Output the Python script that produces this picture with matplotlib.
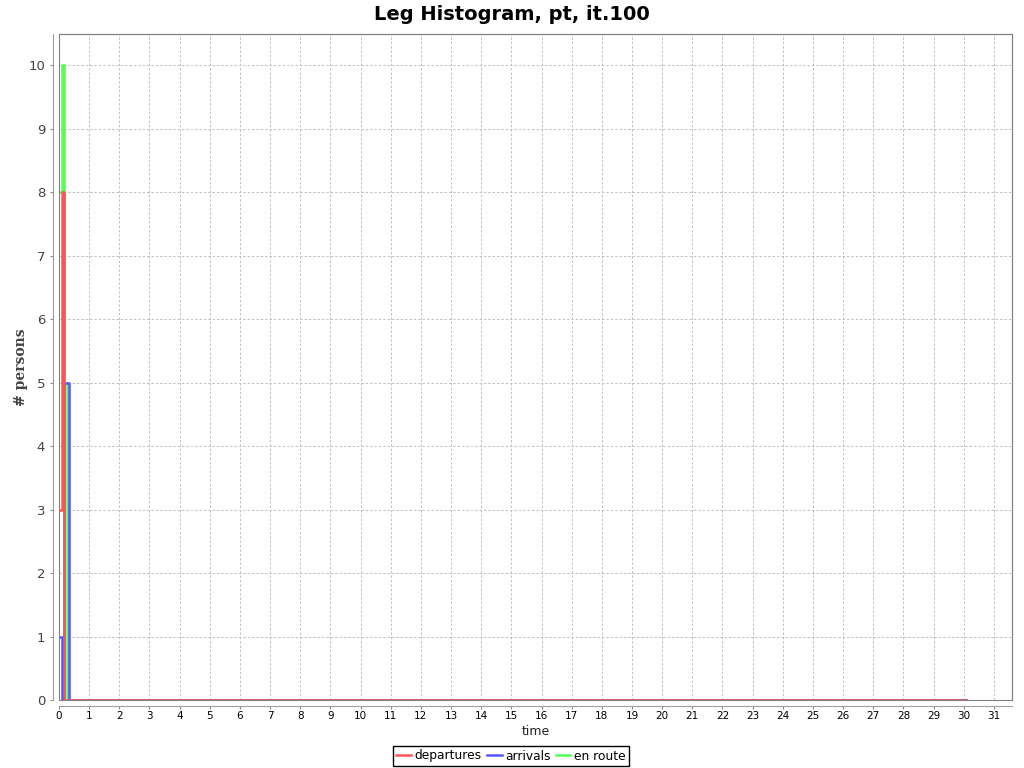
import numpy as np
import matplotlib
matplotlib.use("Agg")
import matplotlib.pyplot as plt
from matplotlib.patches import Rectangle

# ---- data (5-minute bins, time in hours) ----
n_bins = 362
bin_hours = 5.0 / 60.0
departures_head = [3, 8, 0]
arrivals_head = [1, 0, 5, 5, 0]
en_route_head = [8, 10, 5, 0]
series_names = ["departures", "arrivals", "en route"]
series_colors = ["#FF5555", "#5555FF", "#55FF55"]
series_z = [4, 3, 2]
x_ticks = list(range(0, 32))
y_ticks = list(range(0, 11))

def full(head):
    v = np.zeros(n_bins)
    v[:len(head)] = head
    return v

time = np.arange(n_bins) * bin_hours
departures = full(departures_head)
arrivals = full(arrivals_head)
en_route = full(en_route_head)

fig = plt.figure(figsize=(10.24, 7.68), dpi=100)
W, H = 1024, 768
left, right, top, bottom = 59, 1012, 34, 700
ax = fig.add_axes([left / W, 1 - bottom / H, (right - left) / W, (bottom - top) / H])

for vals, name, col, z in zip([departures, arrivals, en_route], series_names, series_colors, series_z):
    ax.plot(time, vals, color=col, lw=1.8, label=name, drawstyle="steps-post", zorder=z)

ax.set_xlim(0, 31.6)
ax.set_ylim(0, 10.49)
ax.set_xticks(x_ticks)
ax.set_yticks(y_ticks)
ax.tick_params(axis="x", labelsize=7.5, length=2, color="#888888", pad=2)
ax.tick_params(axis="y", labelsize=9.5, length=2, color="#888888", labelcolor="#444444", pad=4)
ax.grid(True, color="#C0C0C0", linestyle=(0, (2.5, 2)), lw=0.7)
ax.set_axisbelow(True)

for s in ["top", "right"]:
    ax.spines[s].set_color("#808080")
    ax.spines[s].set_linewidth(0.8)
for s in ["left", "bottom"]:
    ax.spines[s].set_position(("outward", 4))
    ax.spines[s].set_color("#A0A0A0")
    ax.spines[s].set_linewidth(0.8)
ax.add_patch(Rectangle((0, 0), 1, 1, transform=ax.transAxes, fill=False,
                       edgecolor="#808080", lw=0.8, clip_on=False, zorder=5))

ax.set_xlabel("time", fontsize=9, labelpad=3, color="#222222")
ax.set_ylabel("# persons", fontsize=10, family="DejaVu Serif", fontweight="bold",
              color="#444444")
ax.yaxis.set_label_coords((28 - left) / (right - left), 0.5)
fig.text(0.5, 1 - 14 / H, "Leg Histogram, pt, it.100", ha="center", va="center",
         fontsize=14, fontweight="bold")

handles = ax.get_lines()
fig.legend(handles, series_names, loc="center", bbox_to_anchor=(511 / W, 1 - 756 / H),
           ncol=3, fontsize=8.8, frameon=True, fancybox=False, edgecolor="black",
           handlelength=1.2, handletextpad=0.3, columnspacing=0.4, borderpad=0.3,
           framealpha=1)

fig.savefig("out.png", dpi=100)
